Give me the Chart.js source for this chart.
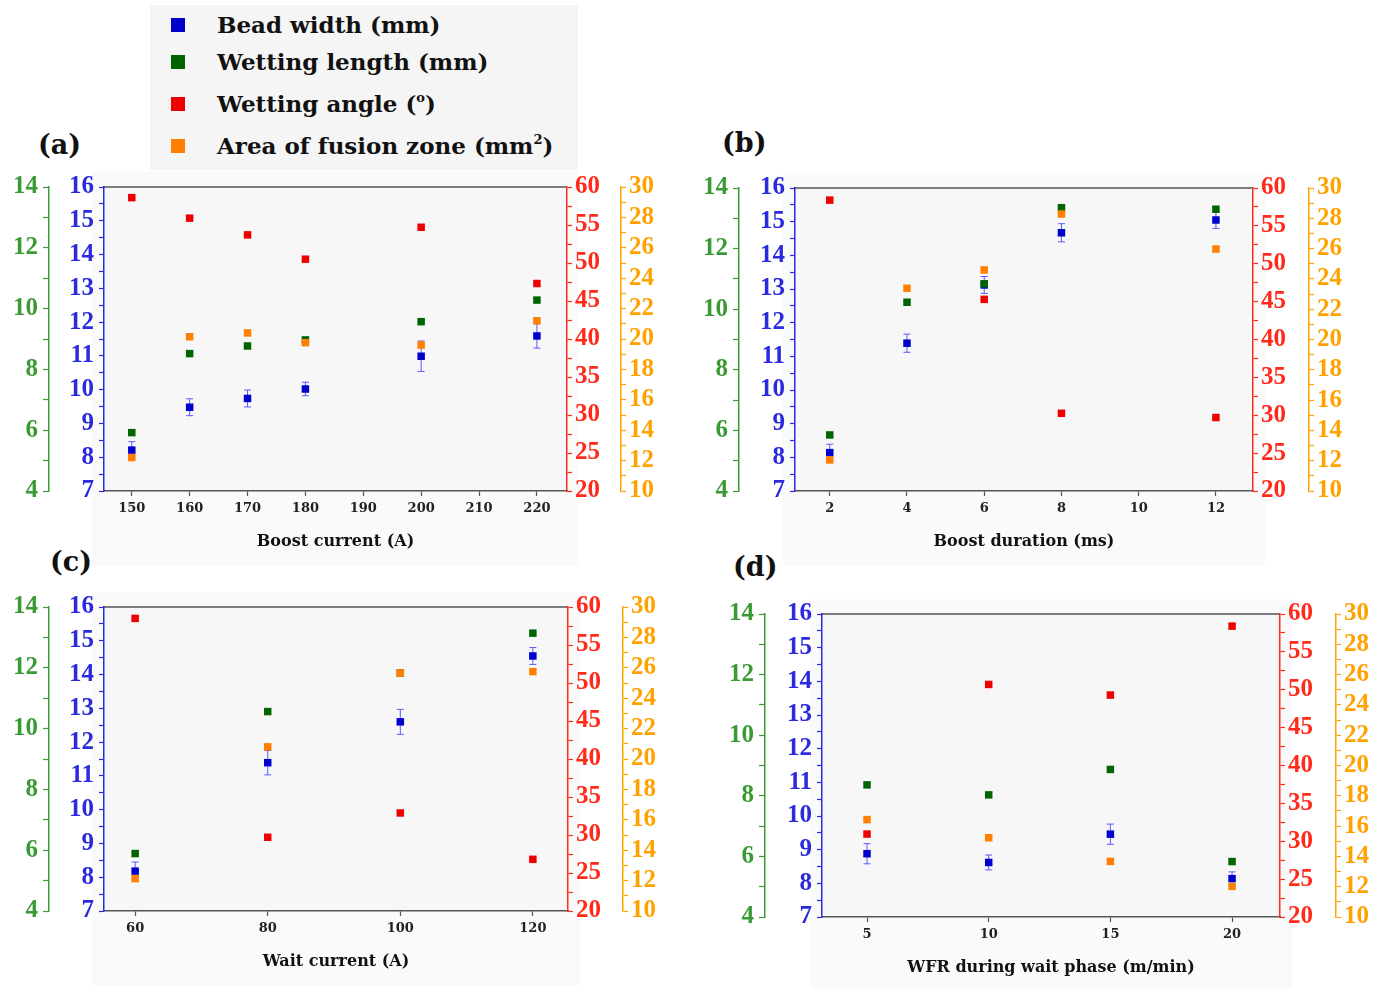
<!DOCTYPE html>
<html>
<head>
<meta charset="utf-8">
<script src="https://cdn.jsdelivr.net/npm/chart.js@4.4.1/dist/chart.umd.min.js"></script>
<style>
  body { margin: 0; background: #fff; width: 1386px; height: 988px; position: relative; overflow: hidden; }
  canvas { position: absolute; }
  .tag { position: absolute; font: bold 27px "DejaVu Serif", serif; color: #111; line-height: 1; }
  #legend { position: absolute; left: 150px; top: 5px; width: 428px; height: 165px; background: #f5f5f5; }
  .item { position: absolute; left: 67px; font: bold 23px "DejaVu Serif", serif; color: #111; white-space: nowrap; line-height: 1; }
  .item sup { font-size: 13px; vertical-align: 10px; line-height: 0; }
  .sw { position: absolute; left: 21px; width: 14px; height: 14px; }
</style>
</head>
<body>

<div id="legend">
  <div class="sw" style="top:13px;background:#0000cd"></div><div class="item" style="top:8px">Bead width (mm)</div>
  <div class="sw" style="top:50px;background:#006400"></div><div class="item" style="top:45px">Wetting length (mm)</div>
  <div class="sw" style="top:92px;background:#ee0000"></div><div class="item" style="top:87px">Wetting angle (<sup>o</sup>)</div>
  <div class="sw" style="top:134px;background:#ff8000"></div><div class="item" style="top:129px">Area of fusion zone (mm<sup>2</sup>)</div>
</div>

<div class="tag" style="left:38px;top:131px">(a)</div>
<div class="tag" style="left:722px;top:129px">(b)</div>
<div class="tag" style="left:50px;top:548px">(c)</div>
<div class="tag" style="left:733px;top:553px">(d)</div>

<canvas id="chartA"></canvas>
<canvas id="chartB"></canvas>
<canvas id="chartC"></canvas>
<canvas id="chartD"></canvas>

<script>
// ===== DATA =====
// (a) boost current
const xA = [150, 160, 170, 180, 200, 220];
const widthA = [8.21, 9.48, 9.74, 10.02, 10.99, 11.59];
const widthErrA = [0.25, 0.25, 0.25, 0.2, 0.45, 0.36];
const lengthA = [5.92, 8.52, 8.77, 8.97, 9.57, 10.28];
const angleA = [58.6, 55.9, 53.7, 50.5, 54.7, 47.3];
const areaA = [12.2, 20.15, 20.4, 19.76, 19.6, 21.2];
const xTicksA = [150, 160, 170, 180, 190, 200, 210, 220];

// (b) boost duration
const xB = [2, 4, 6, 8, 12];
const widthB = [8.14, 11.39, 13.12, 14.67, 15.05];
const widthErrB = [0.25, 0.27, 0.25, 0.27, 0.25];
const lengthB = [5.85, 10.23, 10.84, 13.35, 13.3];
const angleB = [58.4, null, 45.3, 30.26, 29.7];
const areaB = [12.05, 23.38, 24.59, 28.28, 25.97];
const xTicksB = [2, 4, 6, 8, 10, 12];

// (c) wait current
const xC = [60, 80, 100, 120];
const widthC = [8.18, 11.39, 12.6, 14.55];
const widthErrC = [0.27, 0.36, 0.37, 0.25];
const lengthC = [5.89, 10.56, 11.83, 13.14];
const angleC = [58.5, 29.7, 32.9, 26.8];
const areaC = [12.13, 20.8, 25.66, 25.75];
const xTicksC = [60, 80, 100, 120];

// (d) WFR during wait phase
const xD = [5, 10, 15, 20];
const widthD = [8.88, 8.62, 9.46, 8.14];
const widthErrD = [0.3, 0.22, 0.3, 0.2];
const lengthD = [8.36, 8.03, 8.87, 5.83];
const angleD = [30.95, 50.7, 49.3, 58.4];
const areaD = [16.43, 15.23, 13.67, 12.02];
const xTicksD = [5, 10, 15, 20];

// ===== COLOURS =====
const C_BLUE = '#0000cd', C_GREEN = '#006400', C_RED = '#ee0000', C_ORANGE = '#ff8000';
const AX_GREEN = '#3a9b35', AX_BLUE = '#2b2bdd', AX_RED = '#ff2a1a', AX_ORANGE = '#ffa200';
const SERIF = "'DejaVu Serif', serif";
const TICKFONT = "'Liberation Serif', serif";

// ===== PLUGINS =====
const bgPlugin = {
  id: 'bg',
  beforeDraw(c) {
    const { ctx, chartArea: a } = c;
    ctx.save();
    ctx.fillStyle = '#fafafa';
    ctx.fillRect(a.left - 12, a.top - 15, a.right - a.left + 24, a.bottom - a.top + 90);
    ctx.fillStyle = '#f7f7f7';
    ctx.fillRect(a.left, a.top, a.right - a.left, a.bottom - a.top);
    ctx.strokeStyle = '#555';
    ctx.lineWidth = 1.5;
    ctx.beginPath();
    ctx.moveTo(a.left, a.top);
    ctx.lineTo(a.right, a.top);
    ctx.stroke();
    ctx.restore();
  }
};

const errPlugin = {
  id: 'err',
  beforeDatasetsDraw(c) {
    const ctx = c.ctx;
    c.data.datasets.forEach(d => {
      if (!d.errors) return;
      const ys = c.scales[d.yAxisID], xs = c.scales.x;
      ctx.save();
      ctx.strokeStyle = '#5a5aff';
      ctx.lineWidth = 1;
      d.data.forEach((p, j) => {
        const x = xs.getPixelForValue(p.x);
        const y1 = ys.getPixelForValue(p.y - d.errors[j]);
        const y2 = ys.getPixelForValue(p.y + d.errors[j]);
        ctx.beginPath();
        ctx.moveTo(x, y1); ctx.lineTo(x, y2);
        ctx.moveTo(x - 3.5, y1); ctx.lineTo(x + 3.5, y1);
        ctx.moveTo(x - 3.5, y2); ctx.lineTo(x + 3.5, y2);
        ctx.stroke();
      });
      ctx.restore();
    });
  }
};

// ===== HELPERS =====
function pts(xs, ys) {
  return xs.map((x, i) => ({ x: x, y: ys[i] })).filter(p => p.y !== null);
}

function yAxis(pos, color, min, max, step, major, width, weight, tickLen, pad) {
  return {
    type: 'linear', position: pos, min: min, max: max, weight: weight,
    border: { color: color, width: 1.5 },
    grid: { drawOnChartArea: false, color: color, tickColor: color, tickLength: tickLen, tickWidth: 1.2 },
    ticks: {
      stepSize: step, autoSkip: false, includeBounds: false, color: color, padding: pad,
      font: { family: TICKFONT, weight: 'bold', size: 25 },
      callback: v => (Math.abs(v / major - Math.round(v / major)) < 1e-6 ? v : '')
    },
    afterFit: s => { s.width = width; }
  };
}

function ds(data, color, axis, order, errors) {
  const d = {
    data: data, yAxisID: axis, order: order,
    pointStyle: 'rect', pointRadius: 5.3, pointHoverRadius: 5.3,
    backgroundColor: color, borderColor: color, borderWidth: 0
  };
  if (errors) d.errors = errors;
  return d;
}

function panel(id, o) {
  const cv = document.getElementById(id);
  const left = o.greenX - 49, top = o.T - 20;
  const w = o.orangeX + 55 - left, h = o.B + 75 - top;
  cv.style.left = left + 'px';
  cv.style.top = top + 'px';
  cv.width = w; cv.height = h;
  cv.style.width = w + 'px'; cv.style.height = h + 'px';

  new Chart(cv, {
    type: 'scatter',
    data: {
      datasets: [
        ds(pts(o.x, o.width), C_BLUE, 'yBlue', 3, o.err),
        ds(pts(o.x, o.length), C_GREEN, 'yGreen', 2),
        ds(pts(o.x, o.angle), C_RED, 'yRed', 1),
        ds(pts(o.x, o.area), C_ORANGE, 'yOrange', 0)
      ]
    },
    options: {
      responsive: false,
      animation: false,
      layout: { padding: { top: 20, left: 0, right: 0, bottom: 0 } },
      plugins: { legend: { display: false }, tooltip: { enabled: false } },
      scales: {
        x: {
          type: 'linear', position: 'bottom', min: o.xMin, max: o.xMax,
          border: { color: '#555', width: 1.5 },
          grid: { drawOnChartArea: false, tickColor: '#555', tickLength: 5, tickWidth: 1.2 },
          ticks: { color: '#222', padding: 5, autoSkip: false, font: { family: SERIF, weight: 'bold', size: 13 } },
          afterBuildTicks: s => { s.ticks = o.xTicks.map(v => ({ value: v })); },
          title: { display: true, text: o.title, color: '#111', font: { family: SERIF, weight: 'bold', size: 16 }, padding: { top: 0, bottom: 15 } },
          afterFit: s => { s.height = 75; }
        },
        yGreen: yAxis('left', AX_GREEN, 4, 14, 1, 2, 49, 1, 6, 5),
        yBlue: yAxis('left', AX_BLUE, 7, 16, 0.5, 1, o.L - o.greenX, 0, 5, 5),
        yRed: yAxis('right', AX_RED, 20, 60, 2.5, 5, o.orangeX - o.R, 0, 5, 3),
        yOrange: yAxis('right', AX_ORANGE, 10, 30, 1, 2, 55, 1, 5, 3)
      }
    },
    plugins: [bgPlugin, errPlugin]
  });
}

// ===== PANELS =====
panel('chartA', { L: 104, R: 567, T: 187, B: 491, greenX: 49, orangeX: 621,
  xMin: 145.2, xMax: 225.2, xTicks: xTicksA, title: 'Boost current (A)',
  x: xA, width: widthA, err: widthErrA, length: lengthA, angle: angleA, area: areaA });

panel('chartB', { L: 795, R: 1253, T: 188, B: 491, greenX: 739, orangeX: 1309,
  xMin: 1.1, xMax: 12.96, xTicks: xTicksB, title: 'Boost duration (ms)',
  x: xB, width: widthB, err: widthErrB, length: lengthB, angle: angleB, area: areaB });

panel('chartC', { L: 104, R: 568, T: 607, B: 911, greenX: 49, orangeX: 623,
  xMin: 55.3, xMax: 125.3, xTicks: xTicksC, title: 'Wait current (A)',
  x: xC, width: widthC, err: widthErrC, length: lengthC, angle: angleC, area: areaC });

panel('chartD', { L: 822, R: 1280, T: 614, B: 917, greenX: 765, orangeX: 1336,
  xMin: 3.15, xMax: 21.97, xTicks: xTicksD, title: 'WFR during wait phase (m/min)',
  x: xD, width: widthD, err: widthErrD, length: lengthD, angle: angleD, area: areaD });
</script>
</body>
</html>
